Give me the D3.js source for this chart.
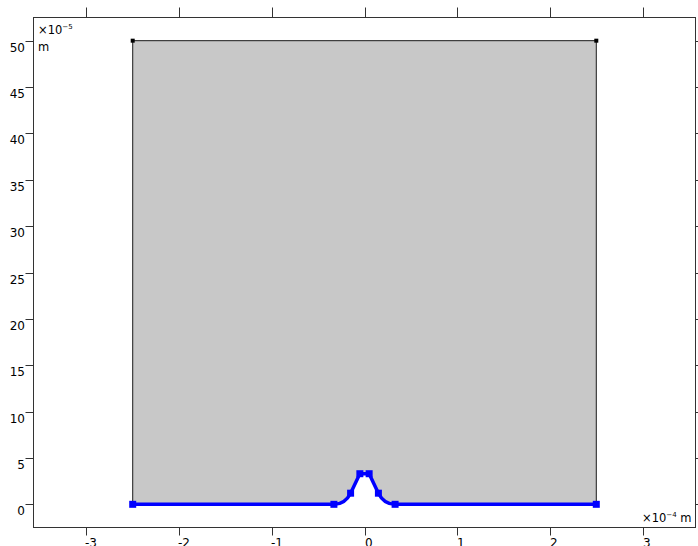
<!DOCTYPE html>
<html><head><meta charset="utf-8">
<script src="https://cdn.jsdelivr.net/npm/d3@7"></script>
<style>body{margin:0;background:#fff}svg{display:block}text{font-family:"DejaVu Sans",sans-serif;font-size:11.5px;fill:#000}text.tk{font-size:12px}</style>
</head><body><svg id="c" width="698" height="546"></svg>
<script>
// Data (x in 1e-4 m, y in 1e-5 m)
const xTicks = [-3, -2, -1, 0, 1, 2, 3];
const yTicks = [0, 5, 10, 15, 20, 25, 30, 35, 40, 45, 50];
const rectX = [-2.5, 2.5];
const rectY = [0, 50];
const bumpX = [-2.5, -0.33, -0.15, -0.05, 0.05, 0.15, 0.33, 2.5];
const bumpY = [0, 0, 1.2, 3.3, 3.3, 1.2, 0, 0];
const vertexX = [-2.5, -0.33, -0.15, -0.05, 0.05, 0.15, 0.33, 2.5];
const vertexY = [0, 0, 1.2, 3.3, 3.3, 1.2, 0, 0];

const svg = d3.select("#c");
const L = 33.5, R = 695.5, T = 17.5, B = 527.5;
const x = d3.scaleLinear().domain([-3.57, 3.57]).range([L, R]);
const y = d3.scaleLinear().domain([-2.5, 52.5]).range([B, T]);

svg.append("rect")
  .attr("x", x(rectX[0])).attr("y", y(rectY[1]))
  .attr("width", x(rectX[1]) - x(rectX[0])).attr("height", y(rectY[0]) - y(rectY[1]))
  .attr("fill", "#c8c8c8").attr("stroke", "#1a1a1a").attr("stroke-width", 1);
[[rectX[0], rectY[1]], [rectX[1], rectY[1]]].forEach(p => {
  svg.append("rect").attr("x", x(p[0]) - 2).attr("y", y(p[1]) - 2)
    .attr("width", 4).attr("height", 4).attr("fill", "#000");
});

const pts = bumpX.map((v, i) => [x(v), y(bumpY[i])]);
function buildBump(p) {
  p.moveTo(pts[0][0], pts[0][1]);
  p.lineTo(pts[1][0], pts[1][1]);
  p.quadraticCurveTo(x((bumpX[1] + bumpX[2]) / 2 + 0.03), y(0), pts[2][0], pts[2][1]);
  p.lineTo(pts[3][0], pts[3][1]);
  p.lineTo(pts[4][0], pts[4][1]);
  p.lineTo(pts[5][0], pts[5][1]);
  p.quadraticCurveTo(x((bumpX[5] + bumpX[6]) / 2 - 0.03), y(0), pts[6][0], pts[6][1]);
  p.lineTo(pts[7][0], pts[7][1]);
}
const fillP = d3.path();
buildBump(fillP);
fillP.closePath();
svg.append("path").attr("d", fillP.toString()).attr("fill", "#fff")
  .attr("stroke", "#fff").attr("stroke-width", 2);
const path = d3.path();
buildBump(path);
svg.append("path").attr("d", path.toString()).attr("fill", "none")
  .attr("stroke", "#0000ff").attr("stroke-width", 3.5).attr("stroke-linejoin", "round");
svg.selectAll(".vtx").data(vertexX).enter().append("rect")
  .attr("x", (d) => x(d) - 3.5).attr("y", (d, i) => y(vertexY[i]) - 3.5)
  .attr("width", 7).attr("height", 7).attr("fill", "#0000ff");

svg.append("rect").attr("x", L).attr("y", T).attr("width", R - L).attr("height", B - T)
  .attr("fill", "none").attr("stroke", "#333").attr("stroke-width", 1);

const ax = svg.append("g").attr("stroke", "#333").attr("stroke-width", 1);
xTicks.forEach(t => {
  const px = Math.round(x(t)) + 0.5;
  ax.append("line").attr("x1", px).attr("x2", px).attr("y1", T).attr("y2", T - 10);
  ax.append("line").attr("x1", px).attr("x2", px).attr("y1", B).attr("y2", B + 8);
  svg.append("text").attr("class", "tk").attr("x", t < 0 ? px - 1.5 : px - 0.5).attr("y", 547)
    .text(t < 0 ? "-" + Math.abs(t) : t);
});
yTicks.forEach(t => {
  const py = Math.round(y(t)) + 0.5;
  ax.append("line").attr("x1", L).attr("x2", L - 8).attr("y1", py).attr("y2", py);
  ax.append("line").attr("x1", R).attr("x2", R + 8).attr("y1", py).attr("y2", py);
  svg.append("text").attr("class", "tk").attr("x", 25).attr("y", py + 10).attr("text-anchor", "end").text(t);
});

const ym = svg.append("text").attr("x", 38).attr("y", 34);
ym.append("tspan").text("×10");
ym.append("tspan").attr("dy", -5).style("font-size", "7px").text("−5");
svg.append("text").attr("x", 38).attr("y", 51).text("m");
const xm = svg.append("text").attr("x", 642).attr("y", 522);
xm.append("tspan").text("×10");
xm.append("tspan").attr("dy", -5).style("font-size", "7px").text("−4");
xm.append("tspan").attr("dy", 5).text(" m");
</script></body></html>
